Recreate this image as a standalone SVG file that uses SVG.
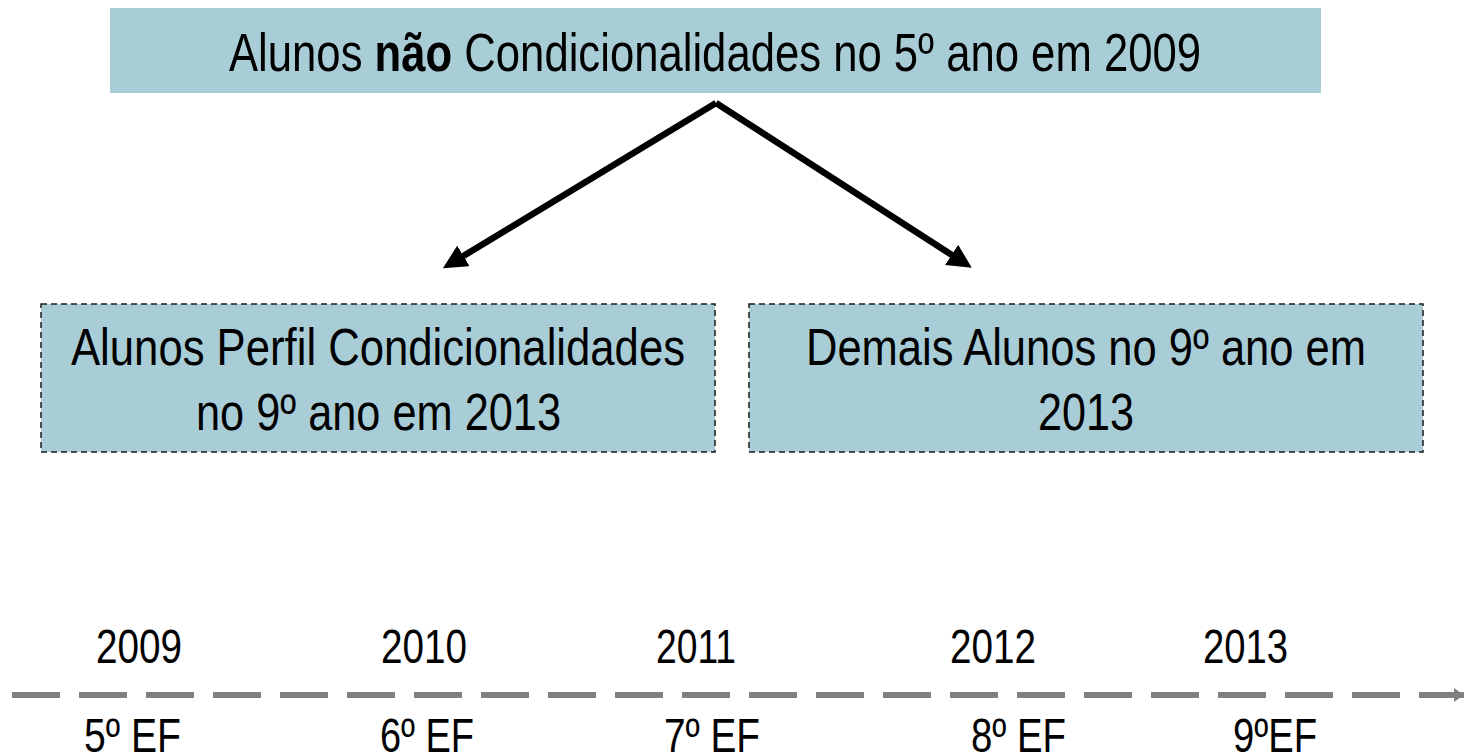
<svg xmlns="http://www.w3.org/2000/svg" width="1465" height="754" viewBox="0 0 1465 754">
<style>
text{font-family:"Liberation Sans Narrow","Arial Narrow","Liberation Sans",Arial,sans-serif;fill:#000;}
.t{font-size:54px;}
.b{font-size:52px;}
.y{font-size:48px;}
.box{fill:#A9CDD7;}
.dbox{fill:#A9CDD7;stroke:#1a1a1a;stroke-width:1.5;stroke-dasharray:6,4;}
.arr{stroke:#000;stroke-width:6.5;fill:none;}
.tl{stroke:#808080;stroke-width:6;stroke-dasharray:48,19;fill:none;}
</style>
<defs>
<marker id="ah" markerUnits="userSpaceOnUse" markerWidth="24" markerHeight="24" refX="4" refY="12" orient="auto" viewBox="0 0 24 24">
<path d="M0,0 L24,12 L0,24 Z" fill="#000"/>
</marker>
<marker id="ahg" markerUnits="userSpaceOnUse" markerWidth="12" markerHeight="14" refX="10" refY="7" orient="auto" viewBox="0 0 12 14">
<path d="M0,0 L10,7 L0,14 Z" fill="#808080"/>
</marker>
</defs>
<g id="top">
<rect class="box" x="110" y="8" width="1211" height="85"/>
<text class="t" x="229" y="71" textLength="972" lengthAdjust="spacingAndGlyphs">Alunos <tspan font-weight="bold">não</tspan> Condicionalidades no 5º ano em 2009</text>
</g>
<g id="left">
<rect class="dbox" x="41" y="304" width="674" height="148"/>
<text class="b" x="71" y="365" textLength="614" lengthAdjust="spacingAndGlyphs">Alunos Perfil Condicionalidades</text>
<text class="b" x="196" y="430" textLength="365" lengthAdjust="spacingAndGlyphs">no 9º ano em 2013</text>
</g>
<g id="right">
<rect class="dbox" x="749" y="304" width="674" height="148"/>
<text class="b" x="806" y="365" textLength="560" lengthAdjust="spacingAndGlyphs">Demais Alunos no 9º ano em</text>
<text class="b" x="1038" y="430" textLength="96" lengthAdjust="spacingAndGlyphs">2013</text>
</g>
<g id="connectors">
<line class="arr" x1="716" y1="103" x2="460" y2="258" marker-end="url(#ah)"/>
<line class="arr" x1="716" y1="103" x2="955" y2="257" marker-end="url(#ah)"/>
<line class="tl" x1="12" y1="695" x2="1464" y2="695" marker-end="url(#ahg)"/>
</g>
<g id="timeline">
<text class="y" x="96" y="663" textLength="86" lengthAdjust="spacingAndGlyphs">2009</text>
<text class="y" x="381" y="663" textLength="86" lengthAdjust="spacingAndGlyphs">2010</text>
<text class="y" x="656" y="663" textLength="80" lengthAdjust="spacingAndGlyphs">2011</text>
<text class="y" x="950" y="663" textLength="86" lengthAdjust="spacingAndGlyphs">2012</text>
<text class="y" x="1203" y="663" textLength="85" lengthAdjust="spacingAndGlyphs">2013</text>
<text class="y" x="84" y="752" textLength="97" lengthAdjust="spacingAndGlyphs">5º EF</text>
<text class="y" x="380" y="752" textLength="94" lengthAdjust="spacingAndGlyphs">6º EF</text>
<text class="y" x="664" y="752" textLength="96" lengthAdjust="spacingAndGlyphs">7º EF</text>
<text class="y" x="971" y="752" textLength="95" lengthAdjust="spacingAndGlyphs">8º EF</text>
<text class="y" x="1233" y="752" textLength="84" lengthAdjust="spacingAndGlyphs">9ºEF</text>
</g>
</svg>
